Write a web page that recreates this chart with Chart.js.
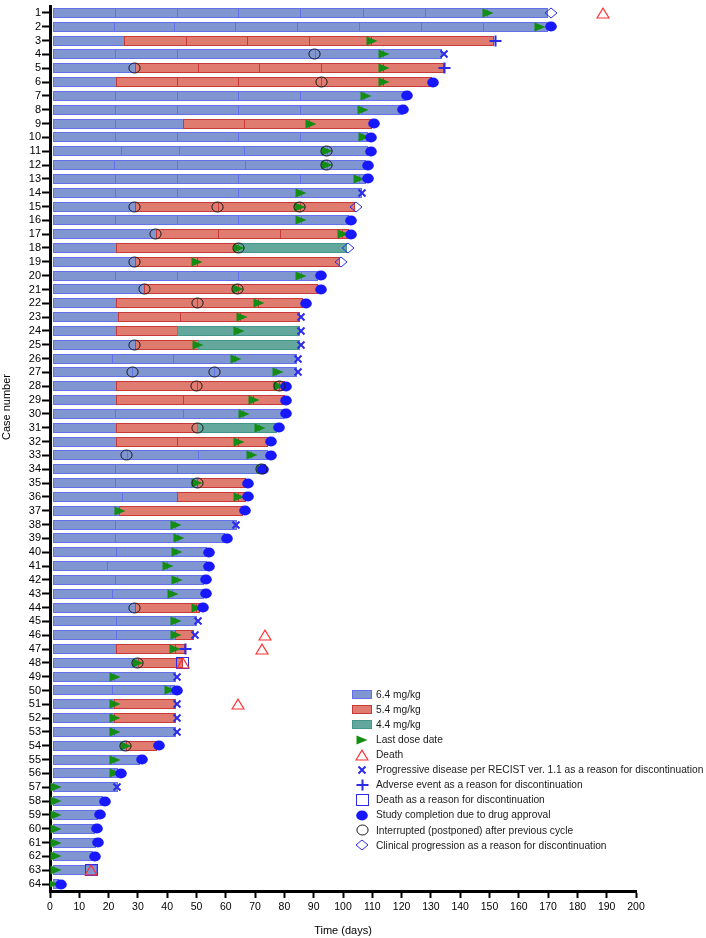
<!DOCTYPE html>
<html><head><meta charset="utf-8">
<script src="https://cdn.jsdelivr.net/npm/chart.js@4/dist/chart.umd.min.js"></script>
<style>html,body{margin:0;padding:0;background:#fff}#wrap{width:706px;height:938px;position:relative}</style>
</head><body><div id="wrap"><canvas id="c" width="706" height="938"></canvas></div>
<script>
// ---------------- DATA ----------------
const caseLabels = ['1','2','3','4','5','6','7','8','9','10','11','12','13','14','15','16','17','18','19','20','21','22','23','24','25','26','27','28','29','30','31','32','33','34','35','36','37','38','39','40','41','42','43','44','45','46','47','48','49','50','51','52','53','54','55','56','57','58','59','60','61','62','63','64'];

// cycle boundaries (days) for each case; last value = end of bar
const segBounds = [
 [1,22.2,43.2,64.3,85.3,106.7,127.9,149,170],
 [1,21.9,42.2,63.2,84.4,105.6,126.7,147.9,170],
 [1,25.3,46.3,67.3,88.4,109.5,151.5],
 [1,22.2,43.2,90.4,113.5,133.7],
 [1,29,50.4,71.4,92.5,113.5,134.6],
 [1,22.4,43.2,64.3,92.5,113.5,130.3],
 [1,22.2,43.2,64.3,85.3,107,121.5],
 [1,22.2,43.2,64.3,85.3,106.5,120.4],
 [1,22.2,45.3,66.3,88.5,109.8],
 [1,22.2,43.2,64.3,85.3,106.5,108.7],
 [1,24.1,44.1,66.3,94.5,108.7],
 [1,22,43.2,66.6,94.4,107.7],
 [1,22.2,43.2,64.3,85.3,105.5,108],
 [1,22.2,43.2,64.3,85.5,106.6],
 [1,29,57.2,85.3,104],
 [1,22.2,43.2,64.3,85.5,102.2],
 [1,36.1,57.5,78.5,99.5,102.2],
 [1,22.4,64.3,101.3],
 [1,29,50.1,99],
 [1,22.2,43.2,64.3,85.5,91.6],
 [1,32.1,64.1,91.6],
 [1,22.4,50.3,71,86.2],
 [1,23.3,44.4,65,85.3],
 [1,22.4,43.2,64.3,85.3],
 [1,29,50.4,85.3],
 [1,21,42.1,63.2,84.2],
 [1,28.1,56.1,77.3,84.2],
 [1,22.4,50,78.3,80.2],
 [1,22.4,45.3,69.2,80.2],
 [1,22.2,45.3,66,80.2],
 [1,22.4,50.3,71.4,77.4],
 [1,22.4,43.2,64.3,74.5],
 [1,26.2,50.4,68.5,74.5],
 [1,22.2,43.2,72.2,73.8],
 [1,22.2,50.3,66.9],
 [1,24.5,43.2,64.3,66.9],
 [1,23.6,65.8],
 [1,22.2,42.8,63.7],
 [1,22.2,43.8,59.7],
 [1,22.4,43,53.5],
 [1,19.3,40,53.5],
 [1,22.2,43.2,52.6],
 [1,21,41.8,52.6],
 [1,29,49.8,51.2],
 [1,22.4,42.8,50.3],
 [1,22.4,42.8,49.2],
 [1,22.4,42.5,46.1],
 [1,29.9,45.5],
 [1,22,43],
 [1,21.3,40.8,42.7],
 [1,22,43],
 [1,22,43],
 [1,22,43],
 [1,25.9,36.4],
 [1,22,30.7],
 [1,22,23.3],
 [1,23.3],
 [1,18.2],
 [1,16.5],
 [1,15.4],
 [1,15.7],
 [1,14.8],
 [1,16],
 [1,3]
];

// dose (mg/kg) of each cycle segment
const segDoses = [
 [6.4,6.4,6.4,6.4,6.4,6.4,6.4,6.4],
 [6.4,6.4,6.4,6.4,6.4,6.4,6.4,6.4],
 [6.4,5.4,5.4,5.4,5.4,5.4],
 [6.4,6.4,6.4,6.4,6.4],
 [6.4,5.4,5.4,5.4,5.4,5.4],
 [6.4,5.4,5.4,5.4,5.4,5.4],
 [6.4,6.4,6.4,6.4,6.4,6.4],
 [6.4,6.4,6.4,6.4,6.4,6.4],
 [6.4,6.4,5.4,5.4,5.4],
 [6.4,6.4,6.4,6.4,6.4,6.4],
 [6.4,6.4,6.4,6.4,6.4],
 [6.4,6.4,6.4,6.4,6.4],
 [6.4,6.4,6.4,6.4,6.4,6.4],
 [6.4,6.4,6.4,6.4,6.4],
 [6.4,5.4,5.4,5.4],
 [6.4,6.4,6.4,6.4,6.4],
 [6.4,5.4,5.4,5.4,5.4],
 [6.4,5.4,4.4],
 [6.4,5.4,5.4],
 [6.4,6.4,6.4,6.4,6.4],
 [6.4,5.4,5.4],
 [6.4,5.4,5.4,5.4],
 [6.4,5.4,5.4,5.4],
 [6.4,5.4,4.4,4.4],
 [6.4,5.4,4.4],
 [6.4,6.4,6.4,6.4],
 [6.4,6.4,6.4,6.4],
 [6.4,5.4,5.4,5.4],
 [6.4,5.4,5.4,5.4],
 [6.4,6.4,6.4,6.4],
 [6.4,5.4,4.4,4.4],
 [6.4,5.4,5.4,5.4],
 [6.4,6.4,6.4,6.4],
 [6.4,6.4,6.4,6.4],
 [6.4,6.4,5.4],
 [6.4,6.4,5.4,5.4],
 [6.4,5.4],
 [6.4,6.4,6.4],
 [6.4,6.4,6.4],
 [6.4,6.4,6.4],
 [6.4,6.4,6.4],
 [6.4,6.4,6.4],
 [6.4,6.4,6.4],
 [6.4,5.4,5.4],
 [6.4,6.4,6.4],
 [6.4,6.4,5.4],
 [6.4,5.4,5.4],
 [6.4,5.4],
 [6.4,6.4],
 [6.4,6.4,6.4],
 [6.4,5.4],
 [6.4,5.4],
 [6.4,6.4],
 [6.4,5.4],
 [6.4,6.4],
 [6.4,6.4],
 [6.4],[6.4],[6.4],[6.4],[6.4],[6.4],[6.4],[6.4]
];

// last dose date for each case (day)
const lastDose = [149.5,167.2,109.8,114.1,114.1,114.1,107.7,106.9,89,107.2,94.5,94.4,105.5,85.8,85.3,85.8,100,64.5,50.1,85.8,
 64.3,71.4,65.4,64.6,50.4,63.5,77.7,78.3,69.6,66.2,71.7,64.6,68.8,72.2,50.3,64.6,23.9,43,44.1,43.2,
 40.2,43.5,42.1,50.1,43,43,42.7,29.9,22.2,41,22.2,22.2,22.2,25.9,22.2,22.2,2,2,2,2,2,2,2,1];

// events: [case number, day]
const deathEvents = [[1,188.8],[46,73.4],[47,72.5],[48,45.3],[51,64.3],[63,14]];
const pdEvents = [[4,134.5],[14,106.6],[23,85.6],[24,85.6],[25,85.6],[26,84.5],[27,84.5],[38,63.5],[45,50.4],[46,49.5],[49,43.5],[51,43.5],[52,43.5],[53,43.5],[57,23]];
const aeEvents = [[3,152.1],[5,134.8],[47,46.4]];
const deathDiscEvents = [[48,45.3],[63,14.2]];
const completionEvents = [[2,170.9],[6,130.6],[7,121.7],[8,120.6],[9,110.6],[10,109.6],[11,109.6],[12,108.7],[13,108.7],[16,102.6],[17,102.6],[20,92.4],[21,92.4],[22,87.4],[28,80.5],[29,80.5],[30,80.5],[31,78.3],[32,75.4],[33,75.4],[34,72.8],[35,67.5],[36,67.5],[37,66.6],[39,60.3],[40,54.3],[41,54.3],[42,53.2],[43,53.2],[44,52.3],[50,43.2],[54,37.2],[55,31.3],[56,24.1],[58,18.8],[59,17.1],[60,15.9],[61,16.3],[62,15.2],[64,3.8]];
const interruptEvents = [[4,90.4],[5,29],[6,92.5],[11,94.5],[12,94.4],[15,29],[15,57.2],[15,85.3],[17,36.1],[18,64.3],[19,29],[21,32.1],[21,64.1],[22,50.3],[25,29],[27,28.1],[27,56.1],[28,50],[28,78.3],[31,50.3],[33,26.2],[34,72.2],[35,50.3],[44,29],[48,29.9],[54,25.9]];
const clinProgEvents = [[1,170.9],[15,104.4],[18,101.6],[19,99.3]];

// ---------------- STYLE ----------------
const FONT = '"Liberation Sans", Arial, Helvetica, sans-serif';
const DOSE_FILL = {'6.4':'#7f96d1','5.4':'#e07b6f','4.4':'#64a79c'};
const DOSE_LINE = {'6.4':'#6470ea','5.4':'#c83a3a','4.4':'#45968a'};
const C_GREEN='#138d13', C_RED='#ff3030', C_BLUE='#2b2be8', C_DOT='#1818ff', C_BLACK='#1a1a1a';

function mk(w,h,fn){const c=document.createElement('canvas');c.width=w;c.height=h;fn(c.getContext('2d'));return c;}
const IMG = {
 last: mk(12,10,g=>{g.fillStyle=C_GREEN;g.beginPath();g.moveTo(0.5,0.5);g.lineTo(11.5,5);g.lineTo(0.5,9.5);g.closePath();g.fill();}),
 death: mk(14,12,g=>{g.strokeStyle=C_RED;g.lineWidth=1.2;g.beginPath();g.moveTo(1,11);g.lineTo(7,1.2);g.lineTo(13,11);g.closePath();g.stroke();}),
 pd: mk(10,10,g=>{g.strokeStyle=C_BLUE;g.lineWidth=2;g.beginPath();g.moveTo(1.5,1.5);g.lineTo(8.5,8.5);g.moveTo(8.5,1.5);g.lineTo(1.5,8.5);g.stroke();}),
 ae: mk(13,12,g=>{g.strokeStyle=C_BLUE;g.lineWidth=2;g.beginPath();g.moveTo(0.5,6);g.lineTo(12.5,6);g.moveTo(6.5,0.5);g.lineTo(6.5,11.5);g.stroke();}),
 box: mk(13,12,g=>{g.strokeStyle=C_BLUE;g.lineWidth=1;g.strokeRect(0.5,0.5,12,11);}),
 done: mk(12,11,g=>{g.fillStyle=C_DOT;g.beginPath();g.ellipse(6,5.5,5.8,5.1,0,0,Math.PI*2);g.fill();}),
 intr: mk(13,12,g=>{g.strokeStyle=C_BLACK;g.lineWidth=1;g.beginPath();g.ellipse(6.5,6,5.6,5,0,0,Math.PI*2);g.stroke();}),
 clin: mk(14,12,g=>{g.strokeStyle=C_BLUE;g.lineWidth=1;g.beginPath();g.moveTo(1,6);g.lineTo(7,1);g.lineTo(13,6);g.lineTo(7,11);g.closePath();g.stroke();})
};

// ---------------- DATASETS ----------------
const maxSegs = Math.max(...segBounds.map(b=>b.length-1));
const datasets = [];
for (let k=0;k<maxSegs;k++){
  datasets.push({
    type:'bar', label:'seg'+k,
    data: segBounds.map(b => k < b.length-1 ? [b[k], b[k+1]] : null),
    backgroundColor: segDoses.map(d => d[k]!==undefined ? DOSE_FILL[String(d[k])] : 'rgba(0,0,0,0)'),
    borderColor: segDoses.map(d => d[k]!==undefined ? DOSE_LINE[String(d[k])] : 'rgba(0,0,0,0)'),
    borderWidth: (ctx) => { const b = segBounds[ctx.dataIndex]; return {top:1,bottom:1,left:1,right:(k===b.length-2)?1:0}; },
    borderSkipped:false, barThickness:10, grouped:false, inflateAmount:0, order:50
  });
}
const toPts = ev => ev.map(([c,d]) => ({x:d, y:caseLabels[c-1]}));
function markerSet(label, pts, img, order){
  return {type:'scatter', label, data:pts, pointStyle:img, pointRadius:5, pointHoverRadius:5, showLine:false, order};
}
datasets.push(markerSet('Last dose date', lastDose.map((d,i)=>({x:d,y:caseLabels[i]})), IMG.last, 9));
datasets.push(markerSet('PD', toPts(pdEvents), IMG.pd, 8));
datasets.push(markerSet('AE', toPts(aeEvents), IMG.ae, 7));
datasets.push(markerSet('Completion', toPts(completionEvents), IMG.done, 6));
datasets.push(markerSet('Death disc', toPts(deathDiscEvents), IMG.box, 5));
datasets.push(markerSet('Clinical', toPts(clinProgEvents), IMG.clin, 4));
datasets.push(markerSet('Death', toPts(deathEvents), IMG.death, 3));
datasets.push(markerSet('Interrupted', toPts(interruptEvents), IMG.intr, 1));

const legendItems = [
 {t:'6.4 mg/kg', sw:'6.4'},{t:'5.4 mg/kg', sw:'5.4'},{t:'4.4 mg/kg', sw:'4.4'},
 {t:'Last dose date', img:IMG.last},{t:'Death', img:IMG.death},
 {t:'Progressive disease per RECIST ver. 1.1 as a reason for discontinuation', img:IMG.pd},
 {t:'Adverse event as a reason for discontinuation', img:IMG.ae},
 {t:'Death as a reason for discontinuation', img:IMG.box},
 {t:'Study completion due to drug approval', img:IMG.done},
 {t:'Interrupted (postponed) after previous cycle', img:IMG.intr},
 {t:'Clinical progression as a reason for discontinuation', img:IMG.clin}
];

// snap drawn elements to whole pixels so thin borders stay crisp
const snap = {
  id:'snap',
  beforeDatasetsDraw(chart){
    chart.data.datasets.forEach((ds,i)=>{
      const meta = chart.getDatasetMeta(i);
      meta.data.forEach(el=>{
        if (meta.type==='bar'){ el.x=Math.round(el.x); el.base=Math.round(el.base); el.y=Math.round(el.y); }
        else { const w=ds.pointStyle.width, h=ds.pointStyle.height; el.x=Math.round(el.x-w/2)+w/2; el.y=Math.round(el.y-h/2)+h/2; }
      });
    });
  }
};

const overlay = {
  id:'overlay',
  afterDraw(chart){
    const ctx = chart.ctx;
    ctx.save();
    ctx.fillStyle='#000'; ctx.font='11px '+FONT; ctx.textAlign='center'; ctx.textBaseline='middle';
    ctx.translate(7,407); ctx.rotate(-Math.PI/2); ctx.fillText('Case number',0,0);
    ctx.restore();
    ctx.save();
    const x0=352, y0=694.3, dy=15.1;
    legendItems.forEach((it,i)=>{
      const y=y0+i*dy;
      if (it.sw){
        const ty=Math.round(y-4.5);
        ctx.fillStyle=DOSE_FILL[it.sw]; ctx.fillRect(x0,ty,20,9);
        ctx.strokeStyle=DOSE_LINE[it.sw]; ctx.lineWidth=1; ctx.strokeRect(x0+0.5,ty+0.5,19,8);
      } else {
        ctx.drawImage(it.img, Math.round(362-it.img.width/2), Math.round(y-it.img.height/2));
      }
      ctx.fillStyle='#1a1a1a'; ctx.font='10.2px '+FONT; ctx.textAlign='left'; ctx.textBaseline='middle';
      ctx.fillText(it.t, 376, y+0.5);
    });
    ctx.restore();
  }
};

new Chart(document.getElementById('c'), {
  type:'bar',
  data:{labels:caseLabels, datasets},
  options:{
    indexAxis:'y', responsive:false, maintainAspectRatio:false, animation:false, devicePixelRatio:1,
    layout:{padding:{left:0,right:70,top:1,bottom:0}},
    plugins:{legend:{display:false}, tooltip:{enabled:false}},
    events:[],
    scales:{
      x:{type:'linear', position:'bottom', min:0, max:200,
         ticks:{stepSize:10, autoSkip:false, maxRotation:0, color:'#000', padding:3, font:{family:FONT,size:10.5}},
         grid:{drawOnChartArea:false, drawTicks:true, tickLength:7, tickWidth:2, tickColor:'#000'},
         border:{display:true, width:3, color:'#000'},
         title:{display:true, text:'Time (days)', color:'#000', font:{family:FONT,size:11}, padding:{top:0,bottom:0}},
         afterFit(s){ s.height=47; s.paddingLeft=0; s.paddingRight=0; }
      },
      y:{type:'category', labels:caseLabels, position:'left', offset:true,
         ticks:{autoSkip:false, color:'#000', padding:1, font:{family:FONT,size:11}},
         grid:{offset:false, drawOnChartArea:false, drawTicks:true, tickLength:8, tickWidth:2, tickColor:'#000'},
         border:{display:true, width:3, color:'#000'},
         afterFit(s){ s.width=50; s.paddingTop=0; s.paddingBottom=0; }
      }
    }
  },
  plugins:[snap, overlay]
});
</script></body></html>
